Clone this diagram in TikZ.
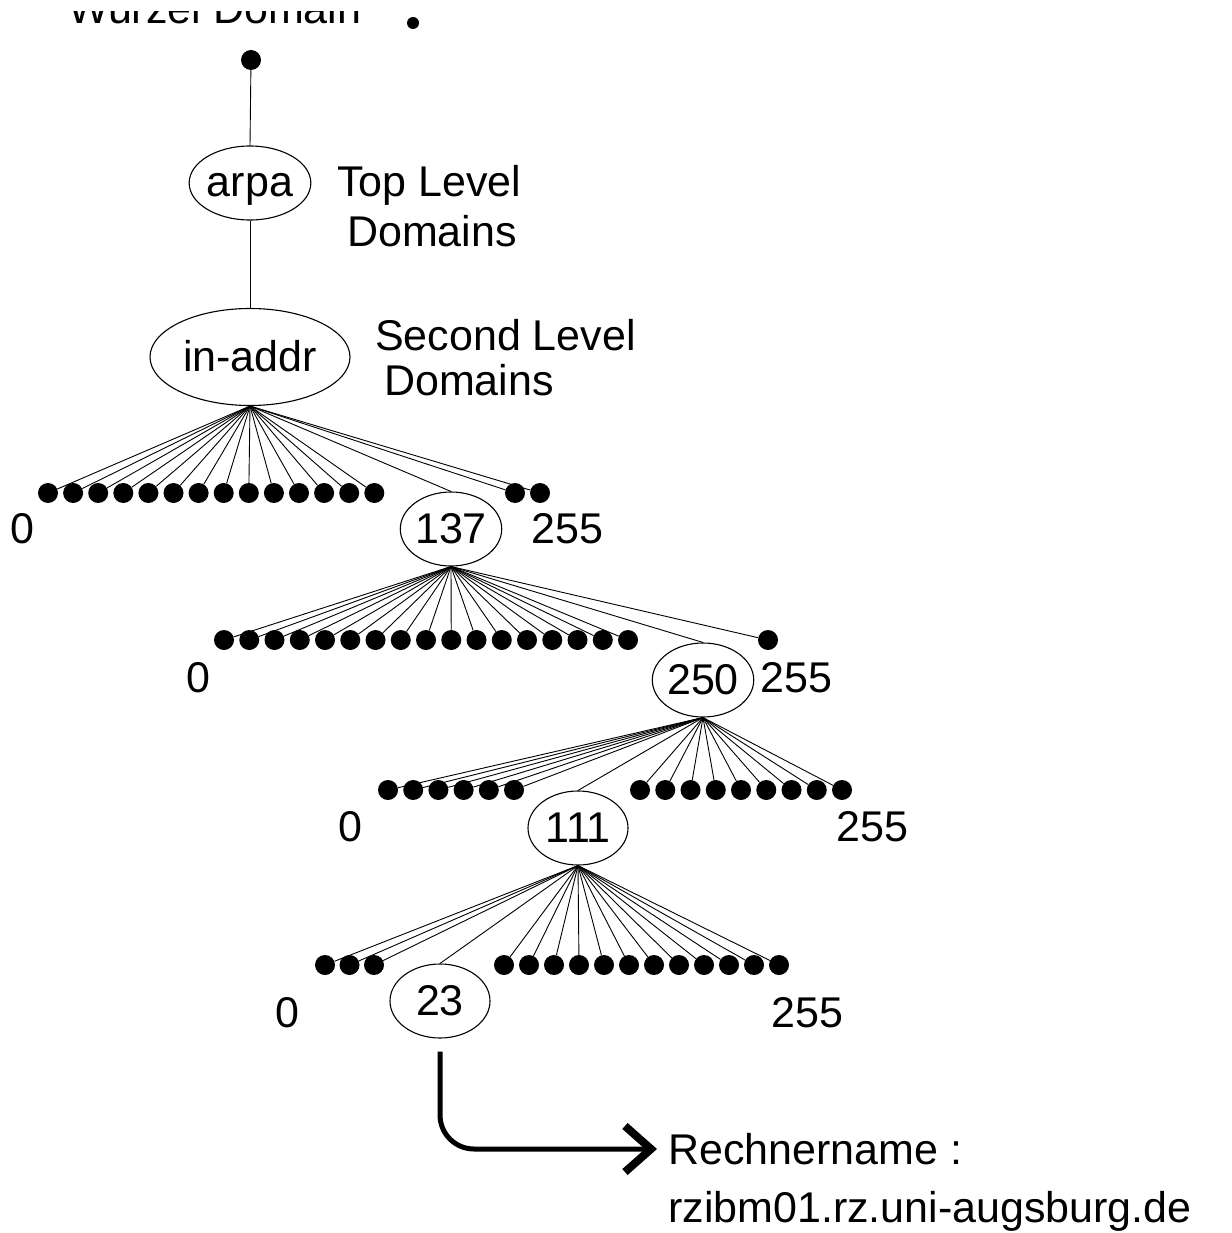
\documentclass[tikz,border=0pt]{standalone}
\usepackage{fontspec}
\setmainfont{Liberation Sans}
\usetikzlibrary{shapes.geometric,arrows.meta}
\begin{document}
\begin{tikzpicture}[x=1pt,y=-1pt,
  every node/.style={font=\fontsize{43}{50}\selectfont},
  dom/.style={draw,ellipse,line width=1.1pt,inner sep=0pt,
    minimum width=100pt,minimum height=74pt,text height=28pt,text depth=0pt},
  dot/.style={circle,fill=black,inner sep=0pt,minimum size=20pt},
  branch/.style={line width=0.9pt},
  lbl/.style={anchor=base west,inner sep=0pt},
  num/.style={anchor=base,inner sep=0pt}]
\useasboundingbox (0,0) rectangle (1231,1233);

% heading, cut off at the top edge
\begin{scope}
  \clip (0,12) rectangle (1231,40);
  \node[lbl] (wurzel) at (68,24) {Wurzel Domain};
\end{scope}
\node[circle,fill=black,inner sep=0pt,minimum size=12pt] (rootmark) at (413,23) {};

% root and upper levels
\node[dot] (root) at (251,60) {};
\node[dom] (arpa) at (250,183) {arpa};
\node[dom,minimum width=200pt,minimum height=97pt] (inaddr) at (250,357) {in-addr};
\draw[branch] (root) -- (arpa.north);
\draw[branch] (arpa.south) -- (inaddr.north);
\node[lbl] (tld1) at (337,197) {Top Level};
\node[lbl] (tld2) at (347,247) {Domains};
\node[lbl] (sld1) at (375,350) {Second Level};
\node[lbl] (sld2) at (384,395) {Domains};

% first octet
\node[dom] (n137) at (451,529) {137};
\foreach \i in {0,...,13} {
  \node[dot] (a\i) at ({48+25.1*\i},493) {};
  \draw[branch] (inaddr.south) -- (a\i);
}
\foreach \i/\x in {14/515,15/540} {
  \node[dot] (a\i) at (\x,493) {};
  \draw[branch] (inaddr.south) -- (a\i);
}
\draw[branch] (inaddr.south) -- (n137.north);
\node[num] (a0l) at (22,543) {0};
\node[lbl] (a255l) at (531,543) {255};

% second octet
\node[dom] (n250) at (703,680) {250};
\foreach \i in {0,...,16} {
  \node[dot] (b\i) at ({224+25.25*\i},640) {};
  \draw[branch] (n137.south) -- (b\i);
}
\node[dot] (b17) at (768,640) {};
\draw[branch] (n137.south) -- (b17);
\draw[branch] (n137.south) -- (n250.north);
\node[num] (b0l) at (198,692) {0};
\node[lbl] (b255l) at (760,692) {255};

% third octet
\node[dom] (n111) at (578,828) {111};
\foreach \i in {0,...,5} {
  \node[dot] (c\i) at ({388+25.2*\i},790) {};
  \draw[branch] (n250.south) -- (c\i);
}
\foreach \i in {0,...,8} {
  \node[dot] (cr\i) at ({640+25.25*\i},790) {};
  \draw[branch] (n250.south) -- (cr\i);
}
\draw[branch] (n250.south) -- (n111.north);
\node[num] (c0l) at (350,841) {0};
\node[lbl] (c255l) at (836,841) {255};

% fourth octet
\node[dom] (n23) at (440,1001) {23};
\foreach \i in {0,...,2} {
  \node[dot] (d\i) at ({325+24.5*\i},965) {};
  \draw[branch] (n111.south) -- (d\i);
}
\foreach \i in {0,...,11} {
  \node[dot] (dr\i) at ({504+25*\i},965) {};
  \draw[branch] (n111.south) -- (dr\i);
}
\draw[branch] (n111.south) -- (n23.north);
\node[num] (d0l) at (287,1027) {0};
\node[lbl] (d255l) at (771,1027) {255};

% resulting host name
\coordinate (tip) at (657,1149);
\draw[line width=5pt,rounded corners=34pt,
  -{Straight Barb[length=26pt,width=46pt,line width=8pt]}]
  ([yshift=-13pt]n23.south) |- (tip);
\node[lbl] (rechner) at (668,1164) {Rechnername :};
\node[lbl] (host) at (668,1222) {rzibm01.rz.uni-augsburg.de};
\end{tikzpicture}
\end{document}
